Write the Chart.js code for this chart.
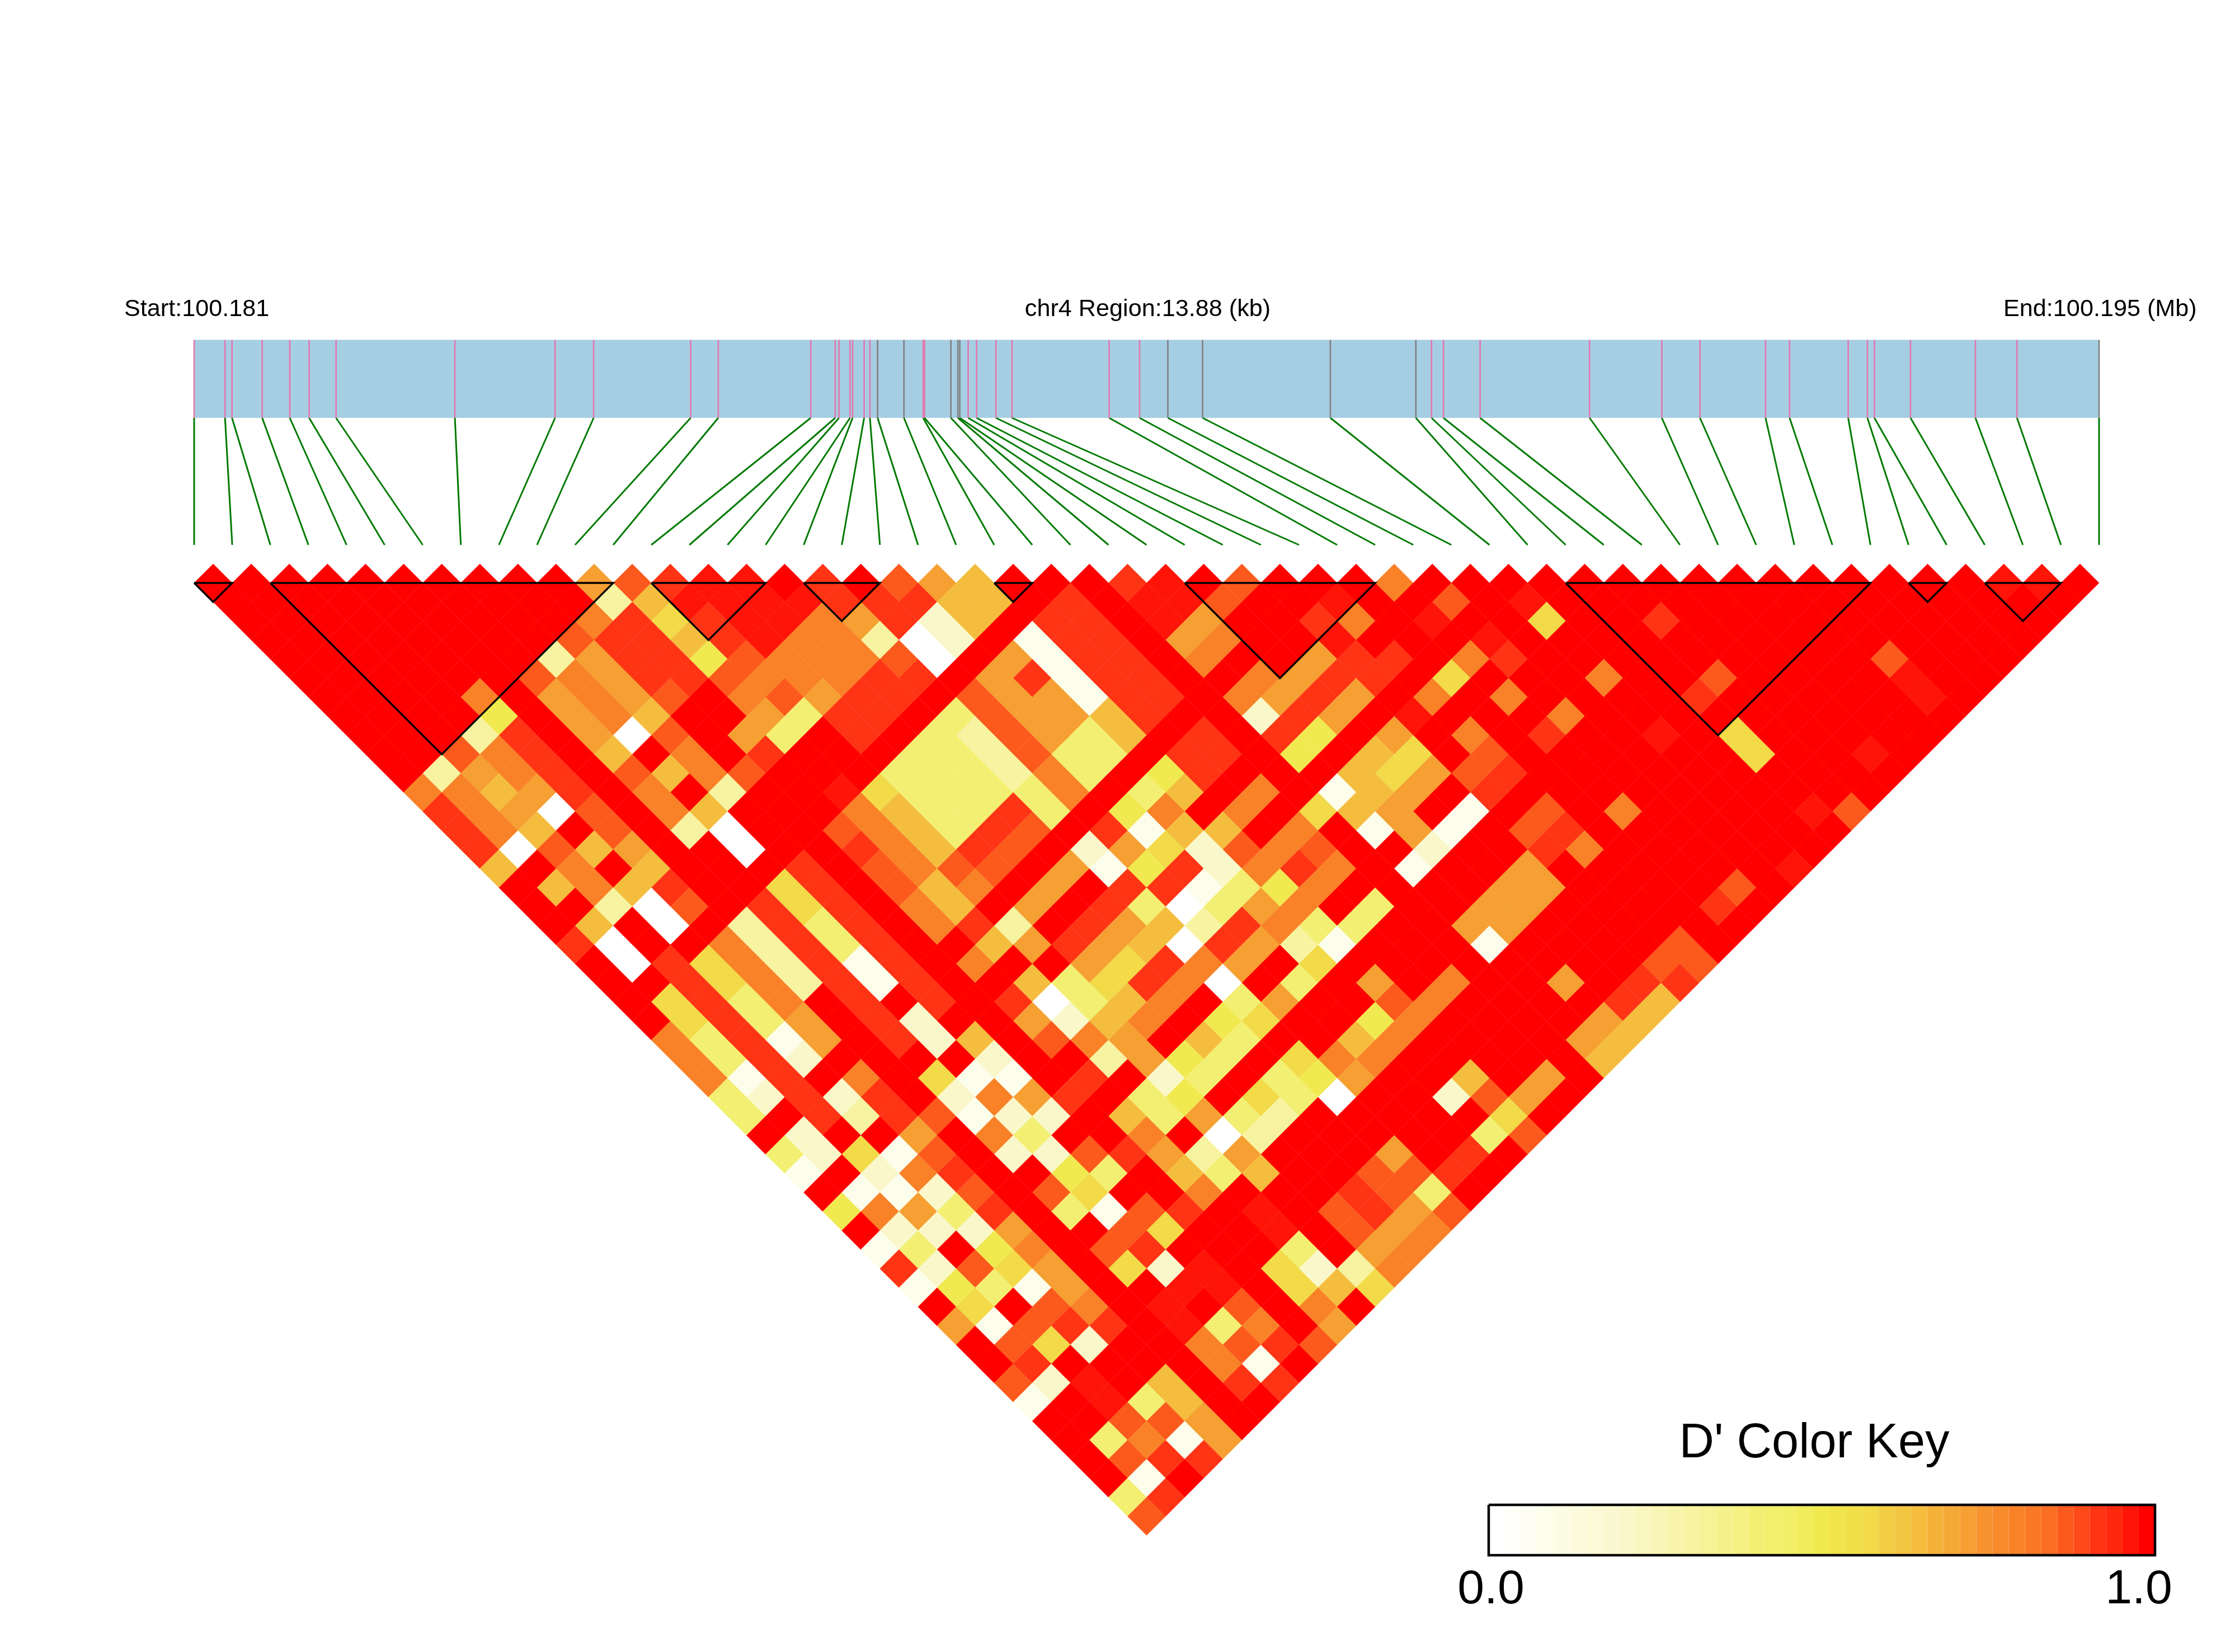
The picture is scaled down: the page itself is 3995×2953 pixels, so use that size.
<!DOCTYPE html>
<html>
<head>
<meta charset="utf-8">
<title>LD block D' heatmap</title>
<script src="https://cdn.jsdelivr.net/npm/chart.js"></script>
<style>
  html, body { margin: 0; padding: 0; background: #fff; }
  canvas { display: block; }
</style>
</head>
<body>
<canvas id="ldChart" width="3995" height="2953"></canvas>
<script>
const regionKb = 13.88;

// SNP positions along the region, in kb from the start
const snpPosKb = [0, .225, .276, .496, .697, .838, 1.034, 1.9, 2.63, 2.911, 3.618, 3.819, 4.493, 4.671, 4.699, 4.779, 4.798,
  4.882, 4.924, 4.98, 5.172, 5.312, 5.322, 5.514, 5.565, 5.579, 5.64, 5.701, 5.842, 5.959, 6.667, 6.889, 7.095, 7.348,
  8.279, 8.902, 9.016, 9.103, 9.37, 10.168, 10.694, 10.972, 11.45, 11.625, 12.052, 12.192, 12.243, 12.506, 12.979, 13.282, 13.88];

// SNPs whose tick in the bar is grey, all others are pink
const greyTicks = [19, 20, 23, 24, 25, 32, 33, 34, 35, 50];

// haplotype blocks as first and last SNP index
const blockStart = [0, 2, 12, 16, 21, 26, 36, 45, 47];
const blockEnd = [1, 11, 15, 18, 22, 31, 44, 46, 49];

// D' per row of the triangle: row n holds the pairs of SNPs that are n apart
const dPrimeRows = [
  [1,1,1,1,1,1,1,1,1,1,.73,.88,.93,.98,.98,1,.93,1,.88,.73,.65,1,1,1,.93,.98,1,.88,1,1,1,.8,1,1,1,1,1,1,1,1,1,1,1,1,1,1,1,.98,.98,1],
  [1,1,1,1,1,1,1,1,1,1,.3,.65,.98,.98,.98,.98,.93,.93,.93,.65,.65,1,.93,1,.98,.98,.88,1,1,.98,1,1,.88,1,.98,1,1,1,1,1,1,1,1,1,1,1,1,1,1],
  [1,1,1,1,1,1,1,1,1,.8,.93,.58,.93,.98,.98,.8,.73,.93,.2,.65,1,.93,.93,1,.98,.73,1,1,.93,.8,1,.98,1,1,.58,1,1,.93,1,1,1,1,1,1,1,1,1,1],
  [1,1,1,1,1,1,1,1,.88,.93,.93,.65,.93,.98,.8,.8,.3,0,.2,1,.08,.93,.93,1,.73,.8,1,1,.98,1,1,1,.98,1,1,1,1,1,1,1,1,1,1,1,1,1,1],
  [1,1,1,1,1,1,1,.3,.73,.93,.93,.5,.88,.8,.8,.8,.88,0,1,.73,.08,.93,.93,1,.8,1,1,.73,.93,.93,1,.8,.93,1,1,1,1,1,1,1,1,1,.88,1,1,1],
  [1,1,1,1,1,1,.88,.8,.73,.93,.93,.88,.8,.8,.8,.93,.93,1,.73,.93,.08,.93,.93,1,1,.8,.73,.93,.93,1,.58,1,1,1,.8,1,1,.88,1,1,1,1,.98,1,1],
  [1,1,1,1,.8,1,.73,.8,.73,.88,1,.8,.88,.73,.93,.93,1,.88,.73,.73,.08,.93,.93,1,.8,.73,.93,.73,1,.8,1,.8,1,1,1,1,.93,1,1,1,1,1,.98,1],
  [1,1,1,1,.5,1,.73,.8,.65,1,1,.73,.4,.93,.93,1,.4,.88,.73,.73,.65,.93,1,1,.2,.93,.73,1,.98,1,1,1,.8,1,1,1,1,1,1,1,1,1,1],
  [1,1,1,.3,.93,1,.73,0,.88,1,.73,.4,1,.93,1,.4,.3,.88,.73,.4,.65,1,.93,1,.93,.5,1,.73,1,.8,1,.93,1,1,.98,1,.58,1,1,1,1,1],
  [1,1,.88,.8,.93,1,.65,1,.8,1,.93,1,1,1,.4,.4,.3,.88,.4,.4,1,.93,.93,1,.5,1,.65,.58,1,.88,1,1,1,1,1,1,.58,1,1,.98,1],
  [1,.3,.73,.8,.93,1,.88,.65,.8,.88,1,1,1,.4,.4,.4,.3,.8,.4,1,.5,.93,1,1,1,.65,.58,.73,.88,.93,1,1,1,1,1,1,1,1,1,1],
  [.8,.8,.65,.73,.93,1,.8,1,.3,1,1,.98,.58,.4,.4,.4,.4,.8,1,.4,.65,1,.8,1,.08,.65,.73,1,.93,1,1,1,1,1,1,1,1,1,1],
  [.93,.8,.73,0,.88,1,.8,.65,1,1,1,.8,.65,.4,.4,.93,.4,1,.5,.8,1,.8,1,.58,.65,.73,1,.08,1,.88,1,.8,1,1,1,1,.98,.88],
  [.93,.8,.65,1,.88,1,.3,0,1,1,.88,.8,.65,.4,.93,.88,1,.93,.08,.65,.65,1,.8,1,.08,.73,.08,1,.88,.93,1,1,1,1,1,1,1],
  [.93,0,.88,.65,.73,1,1,0,1,1,.93,.8,.65,.93,.88,1,.2,.73,.58,.2,.88,.8,.88,1,1,.2,1,1,.93,.8,1,1,1,1,1,1],
  [.65,1,.8,1,.65,1,1,1,.93,1,.88,.8,.88,.88,1,.73,.08,.5,.93,.2,.8,.93,.8,1,.08,1,1,.73,1,1,1,1,1,1,.98],
  [1,.65,.8,.65,.93,1,1,.58,.93,1,.88,.65,.8,1,.73,1,.93,.93,.08,.4,.5,.8,1,1,1,1,.73,.73,1,1,1,1,.88,1],
  [1,1,.3,0,.88,1,.93,.58,.93,1,.8,.65,1,.73,1,.93,.4,0,.4,.73,.8,1,.4,1,1,.73,.73,1,1,1,1,.93,1],
  [1,.65,1,0,1,.3,.93,.4,.93,1,.8,.93,.3,1,.93,.73,.65,.3,.93,.8,.4,.4,1,1,.73,.73,1,1,1,1,1,1],
  [.93,0,1,1,.8,.3,.93,.4,.93,1,1,.65,.73,.93,.73,.65,0,.93,.73,.3,.08,1,1,1,.08,1,1,1,1,.88,1],
  [1,0,.93,.58,.8,.3,.93,.08,.93,1,.8,1,1,.73,.58,.93,.8,.73,1,.58,1,1,1,1,1,1,1,1,.88,.88],
  [1,1,.93,.58,.8,.3,.93,.08,.93,1,1,.65,.4,.58,.93,.8,0,1,.4,1,.73,1,.8,1,1,.73,1,.93,.93],
  [1,.58,.93,.4,.8,1,.93,1,.93,1,.93,0,.4,.65,.8,1,.4,.73,1,1,.88,.8,1,1,1,1,.93,.65],
  [1,.58,.93,.4,.73,1,.93,.2,1,1,.73,.2,.65,.8,1,.5,.58,1,1,.5,.8,1,1,1,1,.73,.65],
  [.8,.4,.93,.08,.73,1,.93,.2,.65,1,.88,.8,.73,1,.65,.4,1,1,.65,.8,1,1,1,1,.73,.65],
  [.8,.4,.93,.2,1,1,1,1,.2,1,1,.3,.73,.5,.4,1,.58,.8,.8,1,1,1,1,1,.65],
  [.8,.08,.93,1,.8,1,.58,.08,.08,1,.93,1,.2,.4,1,.4,.5,.73,1,1,.65,1,.73,1],
  [.4,.2,.93,.2,.93,1,.2,.8,.73,.93,1,.4,.5,1,.58,.4,0,1,1,.2,.88,.73,1],
  [.4,1,.93,.3,.93,.88,.08,.2,.2,1,.65,.4,.73,.4,.3,1,1,1,1,1,.58,1],
  [1,.2,1,1,.73,1,.8,.4,1,1,.8,1,0,.3,1,1,1,1,1,.4,.88],
  [.4,.2,.58,.08,.88,1,.2,.2,.88,.93,.73,.3,.73,1,1,1,.73,1,.93,1],
  [.08,1,.2,.8,.93,1,1,.5,.4,1,.65,.4,.65,1,1,.88,.88,.93,1],
  [1,.08,.08,.2,.88,1,.88,.58,1,1,.8,1,1,1,.93,.88,.4,1],
  [.5,.8,.73,.4,.93,1,.4,.08,.88,.93,1,.98,1,.88,.93,.73,.88],
  [1,.2,.2,.2,.73,1,1,.88,.58,1,1,.98,1,.88,.73,.8],
  [.08,.4,1,.5,.8,1,.88,.93,1,1,1,.4,1,.73,.8],
  [.93,.2,.88,.58,.73,1,.58,.2,.98,1,.58,.2,.3,.8],
  [.08,.5,.4,.08,.73,1,1,.98,.98,1,.58,.65,.58],
  [1,.58,1,.88,.8,1,.98,1,.88,1,.8,1],
  [.73,.08,.88,.93,.93,1,.98,.4,.8,1,.73],
  [1,.88,.58,.2,1,1,.8,.88,.93,.88],
  [1,.93,1,1,1,1,.8,.08,1],
  [.88,.2,.98,1,.65,1,.93,.93],
  [.08,1,.98,.4,.65,1,1],
  [1,1,.88,.88,.73,1],
  [1,.4,.8,.08,.73],
  [1,.88,.93,.93],
  [1,.08,1],
  [.4,.93],
  [.88]
];

// the 41 steps of the colour key, white to red
const keyColors = ['#FFFFFF','#FFFFF8','#FEFEF2','#FDFDEC','#FCFCE4','#FCFADD','#FBF9D6','#FAF8D0','#FAF8CA','#F9F6C0',
  '#F9F5B6','#F8F4AB','#F7F3A0','#F6F296','#F5F28C','#F5F183','#F3EF72','#F3EF6C','#F2EE66','#F1EC5B','#F0EA50',
  '#F0E34C','#F1DF4A','#F2DA48','#F3CE44','#F3C541','#F4BD3E','#F5B23A','#F5A836','#F69F33','#F7942F','#F88A2C',
  '#F98228','#FA7825','#FB6E23','#FC5A1C','#FD4A18','#FF3414','#FF280F','#FF1408','#FF0000'];

const pageW = 3995, pageH = 2953;
const snpLeft = 347, snpStep = 68.1;       // px of SNP 0 and px per SNP
const rowTop = 1042, rowStep = 34.05;      // px of row 1 and px per row
const keyLeft = 2661, keyRight = 3852, keyTop = 2690, keyBottom = 2780;
const barTop = 607.6, barBottom = 747, linkBottom = 974;

const kbToSnpAxis = kb => kb / regionKb * (snpPosKb.length - 1);

const cells = [], cellColors = [];
dPrimeRows.forEach((row, r) => {
  row.forEach((v, i) => {
    const d = r + 1;
    cells.push({ x: i + d / 2, y: d });
    cellColors.push(keyColors[Math.round(v * 40)]);
  });
});

function lineSet(data, color, width, yAxisID, xAxisID, extra) {
  return Object.assign({
    type: 'scatter', data, showLine: true, borderColor: color, borderWidth: width,
    pointRadius: 0, tension: 0, fill: false, xAxisID: xAxisID || 'x', yAxisID: yAxisID || 'yPage',
    borderCapStyle: 'butt', borderJoinStyle: 'miter', order: 2, clip: false
  }, extra || {});
}

const datasets = [];

// heatmap cells, the thin same-coloured border only closes most of the seams
datasets.push({
  type: 'scatter', data: cells, pointStyle: 'rectRot', pointBackgroundColor: cellColors,
  pointBorderColor: cellColors, pointBorderWidth: 0.5,
  pointRadius: rowStep, pointHoverRadius: rowStep, xAxisID: 'x', yAxisID: 'y', order: 5, clip: false
});

// blocks
blockStart.forEach((s, b) => {
  const e = blockEnd[b];
  datasets.push(lineSet([{ x: s, y: 1 }, { x: e, y: 1 }, { x: (s + e) / 2, y: 1 + e - s }, { x: s, y: 1 }],
    '#000000', 3.4, 'y', 'x', { order: 1 }));
});

// region bar, ticks and links to the triangle
const barMid = (barTop + barBottom) / 2;
datasets.push(lineSet([{ x: 0, y: barMid }, { x: snpPosKb.length - 1, y: barMid }], '#A6CEE3', barBottom - barTop, 'yPage', 'x', { order: 6 }));
snpPosKb.forEach((kb, i) => {
  const bx = kbToSnpAxis(kb);
  const tickColor = greyTicks.includes(i) ? '#808080' : '#E277AF';
  datasets.push(lineSet([{ x: bx, y: barTop }, { x: bx, y: barBottom }], tickColor, 2.6, 'yPage', 'x', { order: 4 }));
  datasets.push(lineSet([{ x: bx, y: barBottom }, { x: i, y: linkBottom }], '#007A00', 3, 'yPage', 'x', { order: 4 }));
});

// colour key as one thick line, one coloured segment per step
const keyMid = (keyTop + keyBottom) / 2;
const keyPoints = [];
for (let k = 0; k <= keyColors.length; k++) keyPoints.push({ x: k / keyColors.length, y: keyMid });
datasets.push(lineSet(keyPoints, '#FF0000', keyBottom - keyTop, 'yPage', 'xKey', {
  order: 4,
  segment: { borderColor: ctx => keyColors[ctx.p0DataIndex] }
}));
datasets.push(lineSet([{ x: 0, y: keyTop }, { x: 1, y: keyTop }, { x: 1, y: keyBottom }, { x: 0, y: keyBottom }, { x: 0, y: keyTop }],
  '#000000', 4.5, 'yPage', 'xKey', { order: 1 }));

const pageLabels = [
  { text: 'Start:100.181', x: 222, y: 564.5, size: 43.2, align: 'left' },
  { text: 'chr4 Region:13.88 (kb)', x: 2051.5, y: 564.5, size: 43.2, align: 'center' },
  { text: 'End:100.195 (Mb)', x: 3581, y: 564.5, size: 43.2, align: 'left' },
  { text: "D' Color Key", x: 3243, y: 2604.7, size: 86.5, align: 'center' },
  { text: '0.0', x: 2665, y: 2866, size: 86, align: 'center' },
  { text: '1.0', x: 3823, y: 2866, size: 86, align: 'center' }
];

const labelPlugin = {
  id: 'pageLabels',
  afterDraw(chart) {
    const ctx = chart.ctx;
    const xs = chart.scales.xPage, ys = chart.scales.yPage;
    ctx.save();
    ctx.fillStyle = '#000';
    ctx.textBaseline = 'alphabetic';
    pageLabels.forEach(l => {
      ctx.font = l.size + 'px "Liberation Sans", Arial, sans-serif';
      ctx.textAlign = l.align;
      ctx.fillText(l.text, xs.getPixelForValue(l.x), ys.getPixelForValue(l.y));
    });
    ctx.restore();
  }
};

const hidden = { type: 'linear', display: false };
new Chart(document.getElementById('ldChart').getContext('2d'), {
  type: 'scatter',
  data: { datasets },
  plugins: [labelPlugin],
  options: {
    responsive: false,
    animation: false,
    events: [],
    devicePixelRatio: 1,
    layout: { padding: 0, autoPadding: false },
    plugins: { legend: { display: false }, tooltip: { enabled: false }, title: { display: false } },
    scales: {
      x: Object.assign({}, hidden, { min: -snpLeft / snpStep, max: (pageW - snpLeft) / snpStep }),
      y: Object.assign({}, hidden, { reverse: true, min: 1 - rowTop / rowStep, max: 1 + (pageH - rowTop) / rowStep }),
      xPage: Object.assign({}, hidden, { min: 0, max: pageW }),
      yPage: Object.assign({}, hidden, { reverse: true, min: 0, max: pageH }),
      xKey: Object.assign({}, hidden, {
        min: -keyLeft / (keyRight - keyLeft),
        max: (pageW - keyLeft) / (keyRight - keyLeft)
      })
    }
  }
});
</script>
</body>
</html>
